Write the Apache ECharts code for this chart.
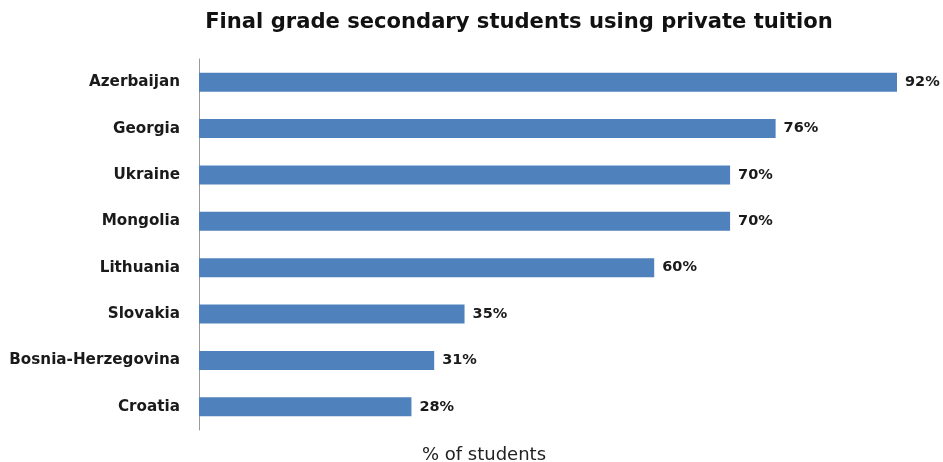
<!DOCTYPE html>
<html>
<head>
<meta charset="utf-8">
<script src="https://cdn.jsdelivr.net/npm/echarts@6/dist/echarts.min.js"></script>
<style>html,body{margin:0;padding:0;background:#fff;}#c{width:943px;height:462px;}</style>
</head>
<body>
<div id="c"></div>
<script>
const categories = ['Azerbaijan','Georgia','Ukraine','Mongolia','Lithuania','Slovakia','Bosnia-Herzegovina','Croatia'];
const values = [92, 76, 70, 70, 60, 35, 31, 28];
const titleText = 'Final grade secondary students using private tuition';
const axisTitle = '% of students';

const chart = echarts.init(document.getElementById('c'));
chart.setOption({
  backgroundColor: '#ffffff',
  animation: false,
  title: [
    { text: titleText, left: 519, top: 12, padding: 0, textAlign: 'center',
      textStyle: { fontFamily: 'DejaVu Sans', fontWeight: 'bold', fontSize: 21.1, color: '#111' } },
    { text: axisTitle, left: 484, top: 446, padding: 0, textAlign: 'center',
      textStyle: { fontFamily: 'DejaVu Sans', fontWeight: 'normal', fontSize: 18, color: '#222' } }
  ],
  grid: { left: 199, right: 46, top: 59, bottom: 32, containLabel: false },
  xAxis: {
    type: 'value', min: 0, max: 92,
    axisLine: { show: false }, axisTick: { show: false },
    axisLabel: { show: false }, splitLine: { show: false }
  },
  yAxis: {
    type: 'category', data: categories, inverse: true,
    axisLine: { show: true, lineStyle: { color: '#9a9a9a', width: 1 } },
    axisTick: { show: false },
    axisLabel: { margin: 19, fontFamily: 'DejaVu Sans', fontWeight: 'bold', fontSize: 15.2, color: '#1a1a1a' }
  },
  series: [{
    type: 'bar', data: values, barWidth: 19,
    itemStyle: { color: '#4F81BD' },
    label: { show: true, position: 'right', distance: 8, formatter: '{c}%',
      fontFamily: 'DejaVu Sans', fontWeight: 'bold', fontSize: 14.5, color: '#1a1a1a' }
  }]
});
</script>
</body>
</html>
